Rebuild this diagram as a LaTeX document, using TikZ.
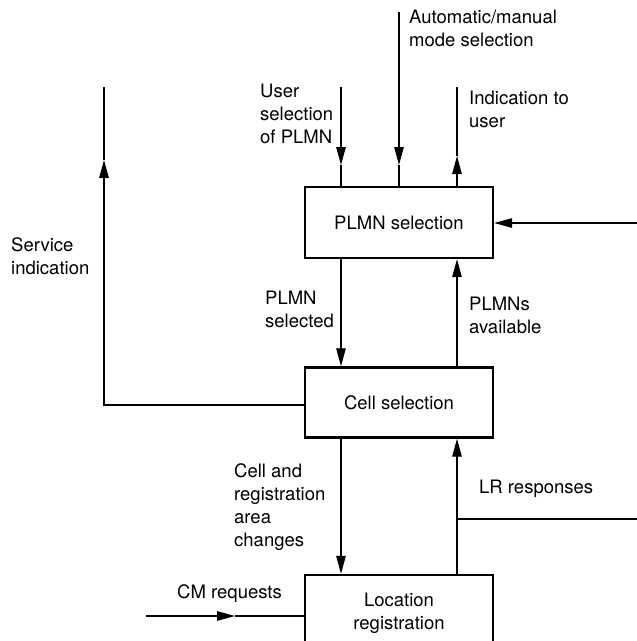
\documentclass[tikz,border=0pt]{standalone}
\usepackage{fontspec}
\setmainfont{TeX Gyre Heros}
\usetikzlibrary{arrows.meta}
\begin{document}
\begin{tikzpicture}[x=1pt,y=-1pt,
  txt/.style={font=\fontsize{18.5}{23}\selectfont},
  box/.style={txt, draw, line width=2.4pt, minimum width=188pt, minimum height=71pt, inner sep=0pt, align=center},
  con/.style={line width=1.2pt},
  tip/.style={-{Triangle[length=18pt,width=9.5pt]}},
  lbl/.style={txt, anchor=north west, inner sep=0pt, align=left}]
\useasboundingbox (0,0) rectangle (637,641);
\clip (0,0) rectangle (637,641);
% boxes
\node[box] (plmn) at (399,222.5) {PLMN selection};
\node[box, minimum height=70pt] (cell) at (399,402.5) {\raisebox{-3.5pt}{Cell selection}};
\node[box, minimum height=76pt] (loc) at (399,613) {Location\\registration};
% helper coordinates
\coordinate (lx) at (341,0);
\coordinate (rx) at (457,0);
\coordinate (usrtop) at (341,87);
\coordinate (usrtip) at (341,165);
\coordinate (autotop) at (399,12);
\coordinate (autotip) at (399,165);
\coordinate (indtop) at (457,87);
\coordinate (indtip) at (457,156);
\coordinate (rin) at (637,223);
\coordinate (svtop) at (104,87);
\coordinate (svtip) at (104,160);
\coordinate (svpt) at (104,405);
\coordinate (lrr) at (637,519);
\coordinate (cm) at (146,616);
\coordinate (cmtip) at (235,616);
% connectors
\draw[con,tip] (usrtop) -- (usrtip);
\draw[con] (usrtip) -- (usrtop |- plmn.north);
\draw[con,tip] (autotop) -- (autotip);
\draw[con] (autotip) -- (autotop |- plmn.north);
\draw[con,tip] (indtop |- plmn.north) -- (indtip);
\draw[con] (indtip) -- (indtop);
\draw[con,tip] (rin) -- (rin -| plmn.east);
\draw[con,tip] (lx |- plmn.south) -- (lx |- cell.north);
\draw[con,tip] (rx |- cell.north) -- (rx |- plmn.south);
\draw[con,tip] (svpt -| cell.west) -- (svpt) -- (svtip);
\draw[con] (svtip) -- (svtop);
\draw[con,tip] (lx |- cell.south) -- (lx |- loc.north);
\draw[con,tip] (rx |- loc.north) -- (rx |- cell.south);
\draw[con] (lrr -| rx) -- (lrr);
\draw[con,tip] (cm) -- (cmtip);
\draw[con] (cmtip) -- (cm -| loc.west);
% labels
\node[lbl] (lauto) at (409,9.7) {Automatic/manual\\mode selection};
\node[lbl] (lusr) at (260,83.7) {User\\selection\\of PLMN};
\node[lbl] (lind) at (469,90.5) {Indication to\\user};
\node[lbl] (lsv) at (11,237) {Service\\indication};
\node[lbl] (lpsel) at (265,291) {PLMN\\selected};
\node[lbl] (lpav) at (469,297) {PLMNs\\available};
\node[lbl] (lcr) at (234,463) {Cell and\\registration\\area\\changes};
\node[lbl] (llr) at (479,480) {LR responses};
\node[lbl] (lcm) at (177,584) {CM requests};
\end{tikzpicture}
\end{document}
